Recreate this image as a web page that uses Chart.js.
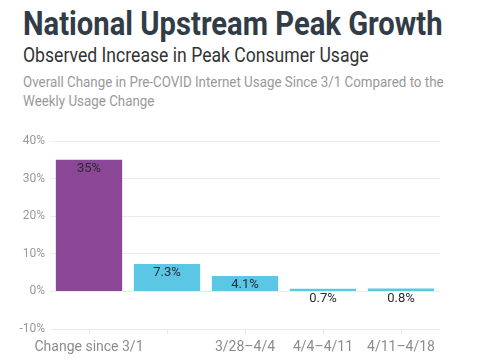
<!DOCTYPE html>
<html lang="en">
<head>
  <meta charset="UTF-8" />
  <title>National Upstream Peak Growth</title>
  <script src="https://cdn.jsdelivr.net/npm/chart.js"></script>
  <style>
    body { margin: 0; width: 500px; height: 363px; background: #fff; font-family: Roboto, sans-serif; overflow: hidden; position: relative; }
    .t { position: absolute; left: 23px; white-space: nowrap; transform-origin: left top; }
    #title { top: 4px; font-size: 33px; font-weight: 700; color: #323c47; transform: scaleX(0.885); }
    #sub { top: 43px; font-size: 20px; color: #333; transform: scaleX(0.88); }
    #desc { top: 73px; font-size: 15px; line-height: 19px; color: #999; transform: scaleX(0.89); }
    #wrap { position: absolute; left: 0; top: 126px; width: 500px; height: 237px; }
  </style>
</head>
<body>
  <div class="t" id="title">National Upstream Peak Growth</div>
  <div class="t" id="sub">Observed Increase in Peak Consumer Usage</div>
  <div class="t" id="desc">Overall Change in Pre-COVID Internet Usage Since 3/1 Compared to the<br>Weekly Usage Change</div>
  <div id="wrap"><canvas id="chart"></canvas></div>

  <script>
    const categories = ['Change since 3/1', '3/21–3/28', '3/28–4/4', '4/4–4/11', '4/11–4/18'];
    const values = [35, 7.3, 4.1, 0.7, 0.8];
    const valueLabels = ['35%', '7.3%', '4.1%', '0.7%', '0.8%'];
    const hiddenTicks = [1]; // label dropped in the original (overlap)
    const barColors = ['#8a4795', '#5bc7e5', '#5bc7e5', '#5bc7e5', '#5bc7e5'];

    // draws the value labels inside the bar top, or under the zero line for short bars
    const valueLabelPlugin = {
      id: 'valueLabels',
      afterDatasetsDraw(chart) {
        const ctx = chart.ctx;
        const meta = chart.getDatasetMeta(0);
        const y = chart.scales.y;
        ctx.save();
        ctx.font = '13px Roboto';
        ctx.fillStyle = '#2b2b38';
        ctx.textAlign = 'center';
        ctx.textBaseline = 'middle';
        meta.data.forEach((bar, i) => {
          const h = y.getPixelForValue(0) - bar.y;
          const ty = h > 14 ? bar.y + 9 : y.getPixelForValue(0) + 7;
          ctx.fillText(valueLabels[i], bar.x, ty);
        });
        ctx.restore();
      }
    };

    new Chart(document.getElementById('chart'), {
      type: 'bar',
      data: {
        labels: categories,
        datasets: [{
          data: values,
          backgroundColor: barColors,
          barPercentage: 0.85,
          categoryPercentage: 1
        }]
      },
      options: {
        responsive: true,
        maintainAspectRatio: false,
        animation: false,
        layout: { padding: { left: 0, right: 60, top: 15, bottom: 0 } },
        plugins: { legend: { display: false }, tooltip: { enabled: false } },
        scales: {
          x: {
            grid: { offset: false, drawOnChartArea: false, drawTicks: true, tickLength: 5, color: '#e6e6e6' },
            border: { display: false },
            ticks: {
              autoSkip: false,
              maxRotation: 0,
              padding: 5,
              color: '#8c8c8c',
              font: { family: 'Roboto', size: 14 },
              callback: (v, i) => hiddenTicks.includes(i) ? '' : categories[i]
            },
            afterFit: (s) => { s.height = 34; }
          },
          y: {
            min: -10,
            max: 40,
            ticks: {
              stepSize: 10,
              padding: 5,
              color: '#999',
              font: { family: 'Roboto', size: 12 },
              callback: (v) => v + '%'
            },
            grid: { color: '#ebebeb', drawTicks: false },
            border: { display: false },
            afterFit: (s) => { s.width = 50; }
          }
        }
      },
      plugins: [valueLabelPlugin]
    });
  </script>
</body>
</html>
